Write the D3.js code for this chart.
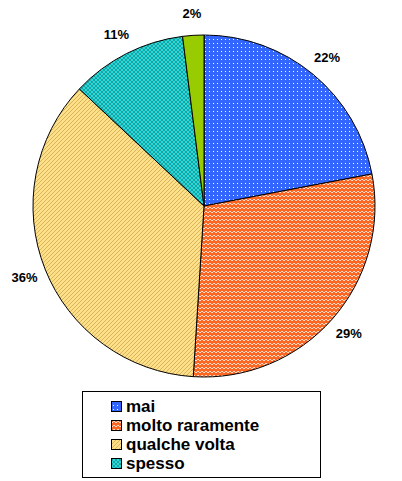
<!DOCTYPE html><html><head><script src="https://d3js.org/d3.v7.min.js"></script>
<style>body{margin:0;background:#fff}</style></head><body><svg id="c" width="402" height="481"></svg>
<script>
const categories=["mai","molto raramente","qualche volta","spesso",""];
const values=[22,29,36,11,2];
const labels=["22%","29%","36%","11%","2%"];
const colors=["#3366ff","#ff6622","#ffe08a","#22dddd","#99cc00"];
const svg=d3.select("#c"),defs=svg.append("defs");
function pat(id,bg,draw){const p=defs.append("pattern").attr("id",id).attr("patternUnits","userSpaceOnUse").attr("width",4).attr("height",4);
p.append("rect").attr("width",4).attr("height",4).attr("fill",bg);draw(p);}
pat("p0",colors[0],p=>p.append("rect").attr("x",1).attr("y",1).attr("width",1).attr("height",1).attr("fill","#fff"));
pat("p1",colors[1],p=>p.append("path").attr("d","M0,3L2,1L4,3").attr("stroke","#fff").attr("stroke-width",0.8).attr("fill","none"));
pat("p2",colors[2],p=>p.append("path").attr("d","M0,4L4,0M-1,1L1,-1M3,5L5,3").attr("stroke","#c8a040").attr("stroke-width",0.7));
pat("p3",colors[3],p=>p.append("path").attr("d","M0,0L4,4M4,0L0,4").attr("stroke","#227777").attr("stroke-width",0.6));
const fills=["url(#p0)","url(#p1)","url(#p2)","url(#p3)",colors[4]];
const cx=204,cy=206,r=171;
const pie=d3.pie().sort(null).value(d=>d)(values);
const arc=d3.arc().innerRadius(0).outerRadius(r);
const g=svg.append("g").attr("transform",`translate(${cx},${cy})`);
g.selectAll("path").data(pie).join("path").attr("d",arc).attr("fill",(d,i)=>fills[i]).attr("stroke","#000").attr("stroke-width",1);
const la=d3.arc().innerRadius(r+22).outerRadius(r+22);
g.selectAll("text").data(pie).join("text").attr("transform",d=>`translate(${la.centroid(d)})`)
 .attr("text-anchor","middle").attr("dy","0.35em").attr("font-family","Arial, Liberation Sans").attr("font-weight","bold").attr("font-size",13).text((d,i)=>labels[i]);
svg.append("rect").attr("x",82.5).attr("y",391.5).attr("width",238).attr("height",86).attr("fill","#fff").attr("stroke","#000");
const lg=svg.append("g");
categories.slice(0,4).forEach((c,i)=>{const y=401+i*19;
lg.append("rect").attr("x",111.5).attr("y",y+0.5).attr("width",10).attr("height",10).attr("fill",fills[i]).attr("stroke","#000");
lg.append("text").attr("x",126).attr("y",y+11).attr("font-family","Arial, Liberation Sans").attr("font-weight","bold").attr("font-size",17).text(c);});
</script></body></html>
